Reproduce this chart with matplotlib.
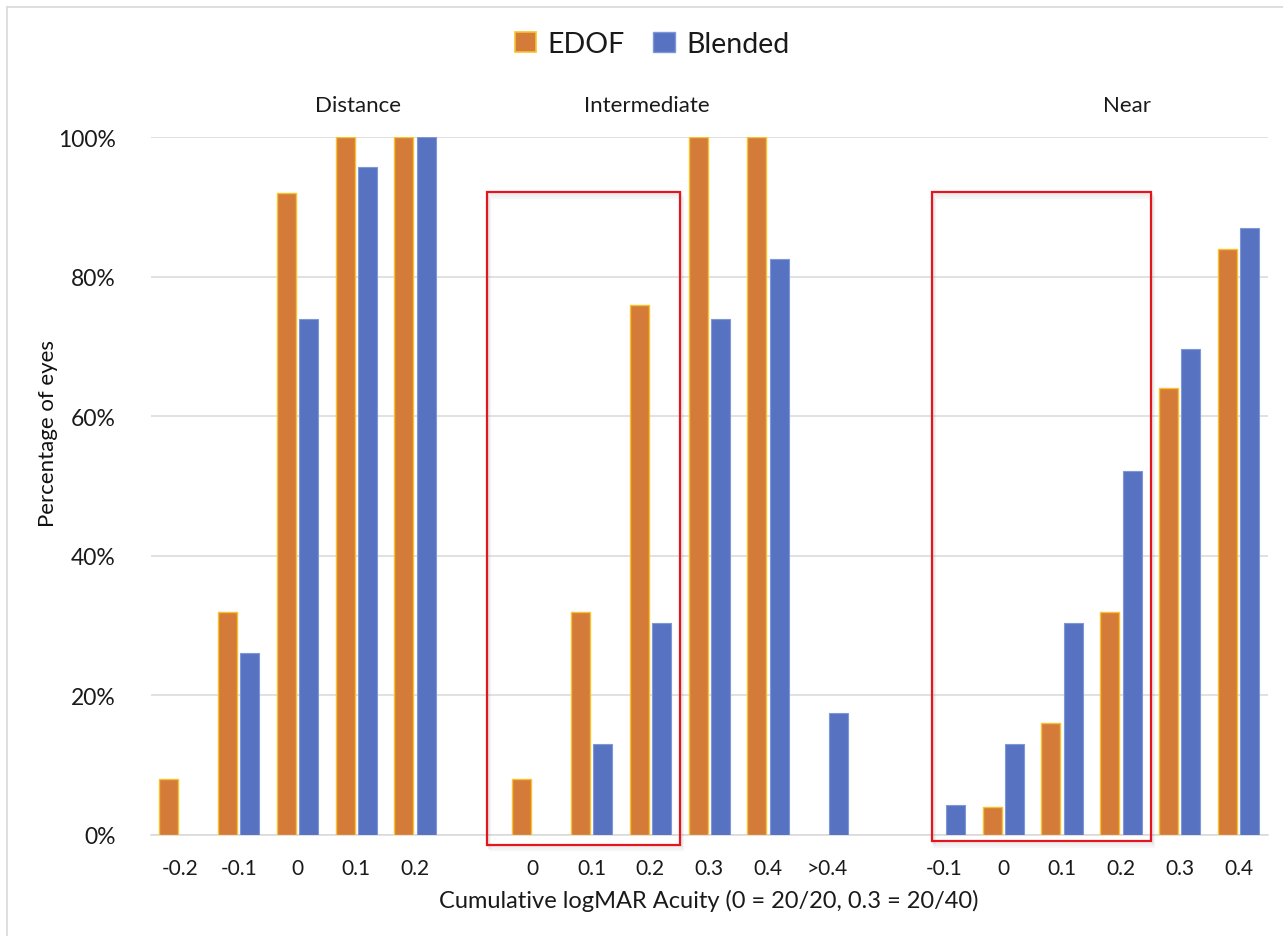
import numpy as np
import matplotlib
matplotlib.use("Agg")
import matplotlib.pyplot as plt
from matplotlib.patches import Rectangle
from matplotlib.lines import Line2D

# ---------------- data ----------------
groups = ["Distance", "Intermediate", "Near"]
distance_labels = ["-0.2", "-0.1", "0", "0.1", "0.2"]
intermediate_labels = ["0", "0.1", "0.2", "0.3", "0.4", ">0.4"]
near_labels = ["-0.1", "0", "0.1", "0.2", "0.3", "0.4"]

edof_distance = [8, 32, 92, 100, 100]
blended_distance = [0, 26.1, 73.9, 95.7, 100]
edof_intermediate = [8, 32, 76, 100, 100, 0]
blended_intermediate = [0, 13.0, 30.4, 73.9, 82.6, 17.4]
edof_near = [0, 4, 16, 32, 64, 84]
blended_near = [4.3, 13.0, 30.4, 52.2, 69.6, 87.0]

y_ticks = [0, 20, 40, 60, 80, 100]
y_tick_labels = ["0%", "20%", "40%", "60%", "80%", "100%"]
series_names = ["EDOF", "Blended"]

# ---------------- layout ----------------
W, H = 1283, 937
fig = plt.figure(figsize=(W / 100, H / 100), dpi=100)
plt.rcParams['font.family'] = ['Lato', 'DejaVu Sans']
TXT = "#1A1A1A"

ax_left, ax_right = 150.5, 1268
ax_top, ax_bottom = 138.3, 835.8
ax = fig.add_axes([ax_left / W, 1 - ax_bottom / H, (ax_right - ax_left) / W,
                   (ax_bottom - ax_top) / H])

label_lists = [distance_labels, intermediate_labels, near_labels]
edof_lists = [edof_distance, edof_intermediate, edof_near]
blend_lists = [blended_distance, blended_intermediate, blended_near]

positions, labels, edof_vals, blend_vals = [], [], [], []
slot = 0
for gi, labs in enumerate(label_lists):
    for j, lab in enumerate(labs):
        positions.append(slot)
        labels.append(lab)
        edof_vals.append(edof_lists[gi][j])
        blend_vals.append(blend_lists[gi][j])
        slot += 1
    slot += 1  # empty slot between groups
positions = np.array(positions, dtype=float)
edof_vals = np.array(edof_vals, dtype=float)
blend_vals = np.array(blend_vals, dtype=float)

ORANGE = "#D57B3A"
ORANGE_EDGE = "#F7C22E"
BLUE = "#5672C1"
BLUE_EDGE = "#7E97D6"

bw = 0.323
off = 0.19
m = edof_vals > 0
ax.bar(positions[m] - off, edof_vals[m], width=bw, color=ORANGE,
       edgecolor=ORANGE_EDGE, linewidth=1.0, zorder=3)
m = blend_vals > 0
ax.bar(positions[m] + off, blend_vals[m], width=bw, color=BLUE,
       edgecolor=BLUE_EDGE, linewidth=0.8, zorder=3)

ax.set_xlim(-0.5, 18.5)
ax.set_ylim(0, 100)
ax.set_yticks(y_ticks)
ax.set_yticklabels(y_tick_labels, fontsize=16.5, color=TXT)
ax.set_xticks(positions)
ax.set_xticklabels(labels, fontsize=15, color=TXT)
ax.tick_params(axis="both", length=0)
ax.tick_params(axis="y", pad=25)
ax.tick_params(axis="x", pad=17)
ax.grid(axis="y", color="#D9D9D9", linewidth=1.1, zorder=0)
for s in ["top", "right", "left"]:
    ax.spines[s].set_visible(False)
ax.spines["bottom"].set_color("#D9D9D9")
ax.spines["bottom"].set_linewidth(1.1)
ax.set_axisbelow(True)

# group titles
title_x = [3.02, 7.94, 16.1]
for name, gx in zip(groups, title_x):
    ax.text(gx, 104.6, name, ha="center", va="center", fontsize=16,
            color=TXT, clip_on=False)

# red highlight boxes (with soft shadow)
boxes = [(5.216, 8.495, -1.42, 92.1), (12.78, 16.51, -0.93, 92.1)]
for (x0, x1, y0, y1) in boxes:
    for k, a in [(3, 0.06), (2, 0.09), (1, 0.12)]:
        ax.add_patch(Rectangle((x0 + 0.02 * k, y0 - 0.25 * k), x1 - x0, y1 - y0,
                               fill=False, edgecolor="#808080", alpha=a,
                               linewidth=1.6, zorder=4, clip_on=False))
    ax.add_patch(Rectangle((x0, y0), x1 - x0, y1 - y0, fill=False,
                           edgecolor="#E3161E", linewidth=1.6, zorder=5,
                           clip_on=False))

# axis labels
fig.text(709 / W, 1 - 901 / H, "Cumulative logMAR Acuity (0 = 20/20, 0.3 = 20/40)",
         ha="center", va="center", fontsize=17, color=TXT)
fig.text(48 / W, 1 - 434 / H, "Percentage of eyes", rotation=90,
         ha="center", va="center", fontsize=16, color="#111111")

# legend
handles = [Rectangle((0, 0), 1, 1, facecolor=ORANGE, edgecolor=ORANGE_EDGE, linewidth=1.2),
           Rectangle((0, 0), 1, 1, facecolor=BLUE, edgecolor=BLUE_EDGE, linewidth=1.0)]
fig.legend(handles, series_names, loc="center", bbox_to_anchor=(652 / W, 1 - 45 / H),
           ncol=2, frameon=False, fontsize=20.5, handlelength=0.75, handleheight=0.75,
           handletextpad=0.4, columnspacing=1.0, labelcolor=TXT)

# chart border
fig.add_artist(Line2D([7 / W, 1.0], [1 - 8 / H, 1 - 8 / H], color="#D9D9D9",
                      linewidth=1.2, transform=fig.transFigure))
fig.add_artist(Line2D([7 / W, 7 / W], [0, 1 - 8 / H], color="#D9D9D9",
                      linewidth=1.2, transform=fig.transFigure))

fig.savefig("out.png", dpi=100, facecolor="white")
